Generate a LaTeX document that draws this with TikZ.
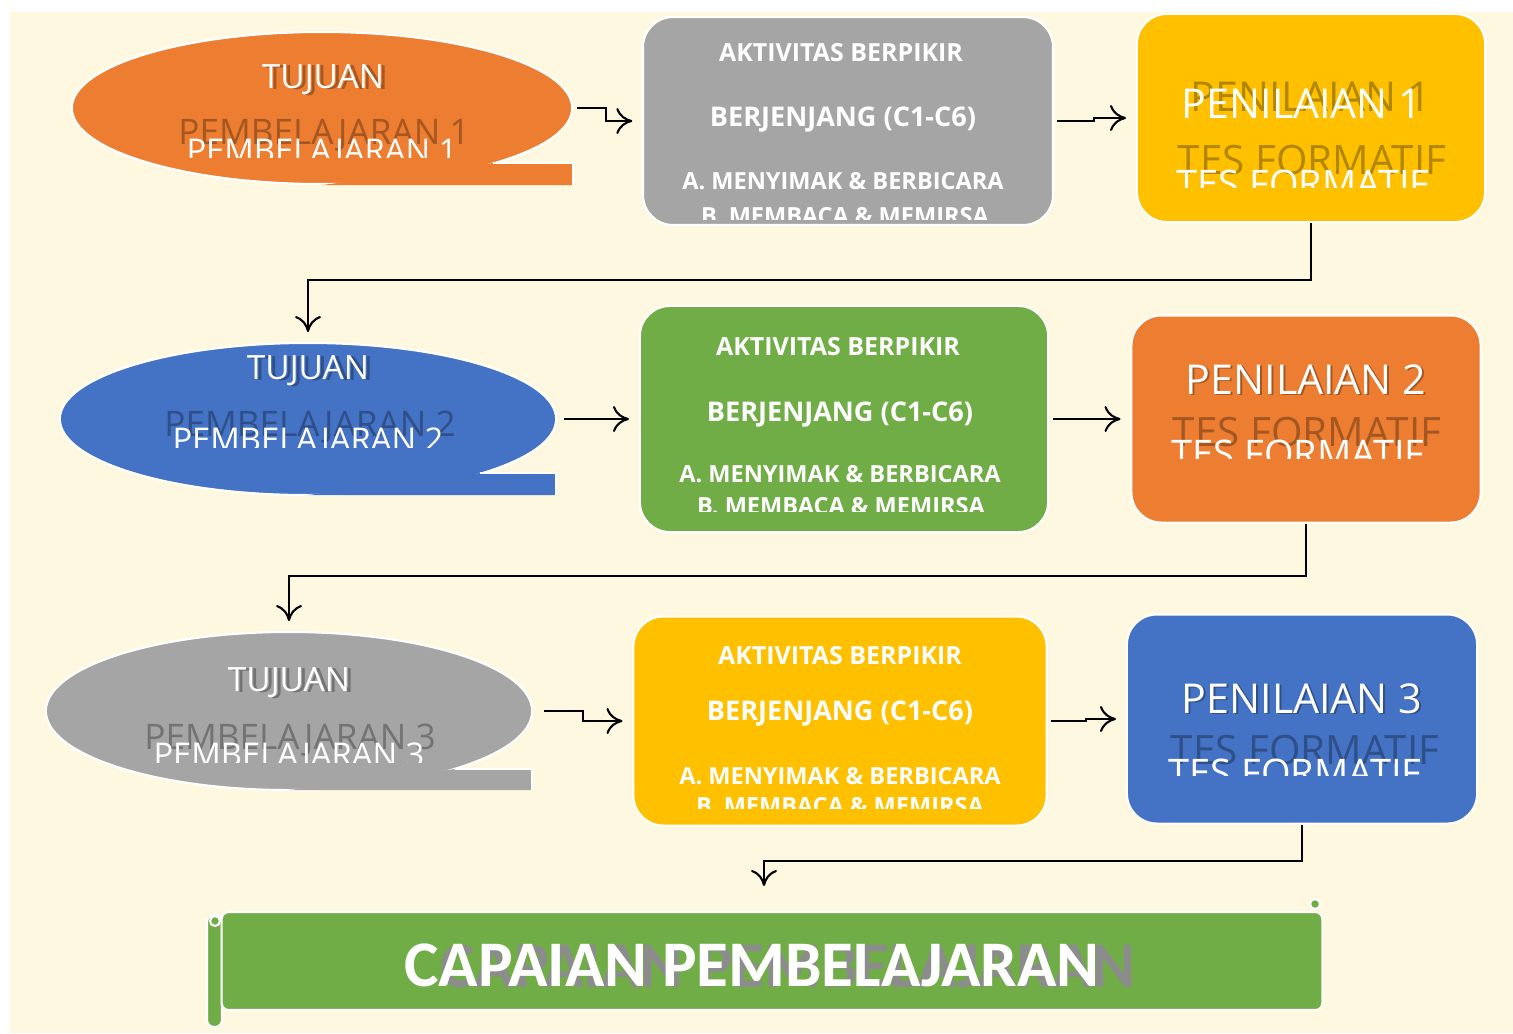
\documentclass[tikz,border=0pt]{standalone}
\usepackage{fontspec}
\setmainfont{Open Sans}
\newfontfamily\titlefont{Carlito}
\usepackage{xcolor}
\usetikzlibrary{shapes.geometric, arrows.meta, positioning}

\definecolor{creamC}{HTML}{FFF8E1}
\definecolor{orangeC}{HTML}{ED7D31}
\definecolor{grayC}{HTML}{A5A5A5}
\definecolor{yellowC}{HTML}{FFC000}
\definecolor{blueC}{HTML}{4472C4}
\definecolor{greenC}{HTML}{70AD47}
\definecolor{shadowC}{HTML}{8C8C8C}

\begin{document}
\begin{tikzpicture}[
    x=0.01cm, y=-0.01cm,
    goal/.style={ellipse, draw=white, line width=0.6pt, inner sep=0pt},
    actbox/.style={draw=white, line width=0.6pt, rounded corners=0.3cm, inner sep=0pt},
    tujtxt/.style={text=white, font=\fontsize{9.5}{10}\selectfont, inner sep=0pt},
    aktxt/.style={text=white, font=\bfseries\fontsize{7.1}{9}\selectfont, inner sep=0pt},
    akbig/.style={aktxt, font=\bfseries\fontsize{7.7}{9}\selectfont},
    aksmall/.style={aktxt, font=\bfseries\fontsize{6.7}{8}\selectfont},
    pentxt/.style={text=white, font=\fontsize{11.7}{13}\selectfont, inner sep=0pt},
    tesshade/.style={pentxt, shade, font=\fontsize{11.5}{13}\selectfont},
    testxt/.style={pentxt, font=\fontsize{10.8}{12}\selectfont},
    shade/.style={text=black, opacity=0.3},
    arrow/.style={-{To[length=1.6mm, width=2.6mm]}, line width=0.6pt, shorten >=2.8pt},
]
\useasboundingbox (0,0) rectangle (1513,1033);
\fill[creamC] (10,12) rectangle (1513,1033);

% Row 1
\node[goal, fill=orangeC, minimum width=5cm, minimum height=1.52cm] (tuj1) at (322,108) {};
\fill[orangeC] (493,163) -- (573,163) -- (573,185) -- (322,185) -- cycle;
\draw[white, line width=0.6pt] (493,163) -- (573,163) -- (573,185);
\node[tujtxt, shade] (tuj1s) at (327,81) {TUJUAN};
\node[tujtxt] (tuj1a) at (323,80) {TUJUAN};
\node[tujtxt, shade, font=\fontsize{10}{11}\selectfont] (tuj1t) at (324,135) {PEMBELAJARAN 1};
\begin{scope}
\clip (100,100) rectangle (560,157);
\node[tujtxt, font=\fontsize{9.3}{10}\selectfont] (tuj1b) at (322,154) {PEMBELAJARAN 1};
\end{scope}

\path[actbox, fill=grayC] (643,17) rectangle (1053,225);
\node[inner sep=0pt, minimum width=4.1cm, minimum height=2.08cm] (akt1) at (848,121) {};
\node[aktxt] (akt1a) at (841,53) {AKTIVITAS BERPIKIR};
\node[akbig] (akt1b) at (843,120) {BERJENJANG (C1-C6)};
\node[aksmall] (akt1c) at (843,181) {A. MENYIMAK \& BERBICARA};
\begin{scope}
\clip (650,190) rectangle (1050,219);
\node[aksmall] (akt1d) at (845,216) {B. MEMBACA \& MEMIRSA};
\end{scope}

\node[actbox, fill=yellowC, minimum width=3.48cm, minimum height=2.08cm] (pen1) at (1311,118) {};
\node[pentxt, shade] (pen1s) at (1311,97) {PENILAIAN 1};
\node[pentxt] (pen1a) at (1302,104) {PENILAIAN 1};
\node[tesshade] (pen1t) at (1312,160) {TES FORMATIF};
\begin{scope}
\clip (1140,150) rectangle (1480,187);
\node[testxt] (pen1b) at (1303,184) {TES FORMATIF};
\end{scope}

\draw[arrow, shorten <=1pt] (tuj1.east) -- ++(33,0) |- (akt1.west);
\draw[arrow, shorten <=1pt] (akt1.east) -- ++(40,0) |- (pen1.west);

% Row 2
\node[goal, fill=blueC, minimum width=4.96cm, minimum height=1.52cm] (tuj2) at (308,419) {};
\fill[blueC] (480,473) -- (556,473) -- (556,495) -- (308,495) -- cycle;
\draw[white, line width=0.6pt] (480,473) -- (556,473) -- (556,495);
\node[tujtxt, shade] (tuj2s) at (312,372) {TUJUAN};
\node[tujtxt] (tuj2a) at (308,371) {TUJUAN};
\node[tujtxt, shade, font=\fontsize{10}{11}\selectfont] (tuj2t) at (310,427) {PEMBELAJARAN 2};
\begin{scope}
\clip (100,410) rectangle (540,447);
\node[tujtxt, font=\fontsize{9.3}{10}\selectfont] (tuj2b) at (308,443) {PEMBELAJARAN 2};
\end{scope}

\node[actbox, fill=greenC, minimum width=4.08cm, minimum height=2.26cm] (akt2) at (844,419) {};
\node[aktxt] (akt2a) at (838,347) {AKTIVITAS BERPIKIR};
\node[akbig] (akt2b) at (840,415) {BERJENJANG (C1-C6)};
\node[aksmall] (akt2c) at (840,474) {A. MENYIMAK \& BERBICARA};
\begin{scope}
\clip (650,485) rectangle (1040,511);
\node[aksmall] (akt2d) at (841,506) {B. MEMBACA \& MEMIRSA};
\end{scope}

\node[actbox, fill=orangeC, minimum width=3.49cm, minimum height=2.07cm] (pen2) at (1306,419) {};
\node[pentxt, shade] (pen2s) at (1308,381) {PENILAIAN 2};
\node[pentxt] (pen2a) at (1306,380) {PENILAIAN 2};
\node[tesshade] (pen2t) at (1307,432) {TES FORMATIF};
\begin{scope}
\clip (1140,420) rectangle (1475,458);
\node[testxt] (pen2b) at (1298,454) {TES FORMATIF};
\end{scope}

\draw[arrow, shorten <=2pt] (tuj2.east) -- (akt2.west);
\draw[arrow, shorten <=1pt] (akt2.east) -- (pen2.west);

% Row 3
\node[goal, fill=grayC, minimum width=4.86cm, minimum height=1.58cm] (tuj3) at (289,711) {};
\fill[grayC] (455,769) -- (532,769) -- (532,790) -- (289,790) -- cycle;
\draw[white, line width=0.6pt] (455,769) -- (532,769) -- (532,790);
\node[tujtxt, shade] (tuj3s) at (293,684) {TUJUAN};
\node[tujtxt] (tuj3a) at (289,683) {TUJUAN};
\node[tujtxt, shade, font=\fontsize{10}{11}\selectfont] (tuj3t) at (290,740) {PEMBELAJARAN 3};
\begin{scope}
\clip (80,730) rectangle (520,762);
\node[tujtxt, font=\fontsize{9.3}{10}\selectfont] (tuj3b) at (289,758) {PEMBELAJARAN 3};
\end{scope}

\node[actbox, fill=yellowC, minimum width=4.13cm, minimum height=2.09cm] (akt3) at (840,721) {};
\node[aktxt] (akt3a) at (840,656) {AKTIVITAS BERPIKIR};
\node[akbig] (akt3b) at (840,714) {BERJENJANG (C1-C6)};
\node[aksmall] (akt3c) at (840,776) {A. MENYIMAK \& BERBICARA};
\begin{scope}
\clip (640,790) rectangle (1040,808);
\node[aksmall] (akt3d) at (840,806) {B. MEMBACA \& MEMIRSA};
\end{scope}

\node[actbox, fill=blueC, minimum width=3.5cm, minimum height=2.09cm] (pen3) at (1302,719) {};
\node[pentxt, shade] (pen3s) at (1304,700) {PENILAIAN 3};
\node[pentxt] (pen3a) at (1302,699) {PENILAIAN 3};
\node[tesshade] (pen3t) at (1305,750) {TES FORMATIF};
\begin{scope}
\clip (1135,740) rectangle (1470,775);
\node[testxt] (pen3b) at (1295,773) {TES FORMATIF};
\end{scope}

\draw[arrow, shorten <=3pt] (tuj3.east) -- ++(50,0) |- (akt3.west);
\draw[arrow, shorten <=1pt] (akt3.east) -- ++(38,0) |- (pen3.west);

% Banner
\path[fill=greenC, draw=white, line width=0.6pt, rounded corners=2pt] (207,915) rectangle (222,1027);
\node[draw=white, line width=0.6pt, fill=greenC, minimum width=11cm, minimum height=0.98cm,
      inner sep=0pt, rounded corners=2pt] (capaian) at (772,961) {};
\coordinate (capin) at (764,912);
\draw[white, line width=0.6pt, fill=greenC] (215,921) circle (5);
\draw[white, line width=0.6pt, fill=greenC] (1315,904) circle (5);
\node[text=shadowC, font=\titlefont\bfseries\fontsize{18.5}{20}\selectfont, inner sep=0pt]
      (capaians) at (788,966) {CAPAIAN PEMBELAJARAN};
\node[text=white, font=\titlefont\bfseries\fontsize{18.5}{20}\selectfont, inner sep=0pt]
      (capaiant) at (752,965) {CAPAIAN PEMBELAJARAN};

% Row links
\draw[arrow] (pen1.south) -- ++(0,57) -| (tuj2.north);
\draw[arrow] (pen2.south) -- ++(0,52) -| (tuj3.north);
\draw[arrow, shorten >=7.4pt] (pen3.south) -- ++(0,36) -| (capin);

\end{tikzpicture}
\end{document}
